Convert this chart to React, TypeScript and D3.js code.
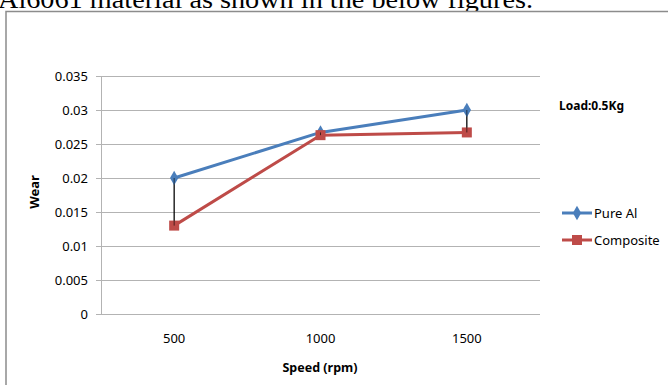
import React from "react";
import * as d3 from "d3";

const categories = ["500", "1000", "1500"];
const pureAl = [0.02, 0.0267, 0.03];
const composite = [0.013, 0.0263, 0.0267];
const yTicks = [0, 0.005, 0.01, 0.015, 0.02, 0.025, 0.03, 0.035];
const yTickLabels = ["0", "0.005", "0.01", "0.015", "0.02", "0.025", "0.03", "0.035"];
const seriesNames = ["Pure Al", "Composite"];

const W = 668;
const H = 385;
const BLUE = "#4a7ebb";
const RED = "#be4b48";
const FONT = "'Noto Sans', 'Open Sans', sans-serif";

export default function App() {
  const x = d3.scaleBand<string>().domain(categories).range([101, 540]);
  const y = d3.scaleLinear().domain([0, 0.035]).range([314, 76]);
  const cx = (c: string) => (x(c) as number) + x.bandwidth() / 2;
  const line = d3
    .line<number>()
    .x((_, i) => cx(categories[i]))
    .y((d) => y(d));
  const diamond = d3.symbol(d3.symbolDiamond, 60)() as string;

  return (
    <svg
      width={W}
      height={H}
      style={{ position: "absolute", left: 0, top: 0, background: "#fff" }}
    >
      <text
        x={-2}
        y={8}
        fontFamily="'Liberation Serif', 'DejaVu Serif', serif"
        fontSize={25}
        fill="#000"
        textLength={535}
        lengthAdjust="spacingAndGlyphs"
      >
        Al6061 material as shown in the below figures.
      </text>
      <rect x={6} y={11.5} width={700} height={400} fill="#fff" stroke="#8c8c8c" strokeWidth={1.5} />

      {/* gridlines */}
      {yTicks.slice(1).map((t) => (
        <line key={"g" + t} x1={101} x2={540} y1={Math.round(y(t)) + 0.5} y2={Math.round(y(t)) + 0.5} stroke="#b3b3b3" strokeWidth={1} />
      ))}
      {/* y axis */}
      <line x1={101.5} x2={101.5} y1={y(0.035)} y2={y(0) + 0.5} stroke="#b3b3b3" />
      {yTicks.map((t) => (
        <line key={"t" + t} x1={96} x2={101} y1={Math.round(y(t)) + 0.5} y2={Math.round(y(t)) + 0.5} stroke="#b3b3b3" />
      ))}
      {/* x axis */}
      <line x1={101} x2={540} y1={314.5} y2={314.5} stroke="#b3b3b3" />

      {yTicks.map((t, i) => (
        <text key={"yl" + t} x={88} y={y(t) + 4.5} textAnchor="end" fontFamily={FONT} fontSize={13} fill="#000">
          {yTickLabels[i]}
        </text>
      ))}
      {categories.map((c) => (
        <text key={"xl" + c} x={cx(c)} y={343} textAnchor="middle" fontFamily={FONT} fontSize={13} fill="#000">
          {c}
        </text>
      ))}

      <text
        transform={`translate(39,192) rotate(-90)`}
        textAnchor="middle"
        fontFamily={FONT}
        fontSize={13}
        fontWeight="bold"
        fill="#000"
      >
        Wear
      </text>
      <text x={320} y={372} textAnchor="middle" fontFamily={FONT} fontSize={12.5} fontWeight="bold" fill="#000">
        Speed (rpm)
      </text>

      {/* drop lines */}
      {categories.map((c, i) => (
        <line key={"d" + c} x1={cx(c)} x2={cx(c)} y1={y(pureAl[i])} y2={y(composite[i])} stroke="#000" strokeWidth={1} />
      ))}

      <path d={line(pureAl) as string} fill="none" stroke={BLUE} strokeWidth={3} strokeLinejoin="round" />
      <path d={line(composite) as string} fill="none" stroke={RED} strokeWidth={3} strokeLinejoin="round" />

      {pureAl.map((v, i) => (
        <path key={"pa" + i} d={diamond} transform={`translate(${cx(categories[i])},${y(v)})`} fill={BLUE} />
      ))}
      {composite.map((v, i) => (
        <rect key={"cp" + i} x={cx(categories[i]) - 5} y={y(v) - 5} width={10} height={10} fill={RED} />
      ))}
      {/* redraw drop line heads over markers for visibility */}
      {categories.map((c, i) => (
        <line key={"d2" + c} x1={cx(c)} x2={cx(c)} y1={y(pureAl[i])} y2={y(composite[i])} stroke="#000" strokeWidth={1} opacity={0.6} />
      ))}

      <text x={559} y={110} fontFamily={FONT} fontSize={12} fontWeight="bold" fill="#000">
        Load:0.5Kg
      </text>

      {/* legend */}
      <line x1={562} x2={592} y1={213} y2={213} stroke={BLUE} strokeWidth={3} />
      <path d={diamond} transform="translate(577,213)" fill={BLUE} />
      <text x={594} y={217.5} fontFamily={FONT} fontSize={13} fill="#000">
        {seriesNames[0]}
      </text>
      <line x1={562} x2={592} y1={240} y2={240} stroke={RED} strokeWidth={3} />
      <rect x={572} y={235} width={10} height={10} fill={RED} />
      <text x={594} y={244.5} fontFamily={FONT} fontSize={13} fill="#000">
        {seriesNames[1]}
      </text>
    </svg>
  );
}
